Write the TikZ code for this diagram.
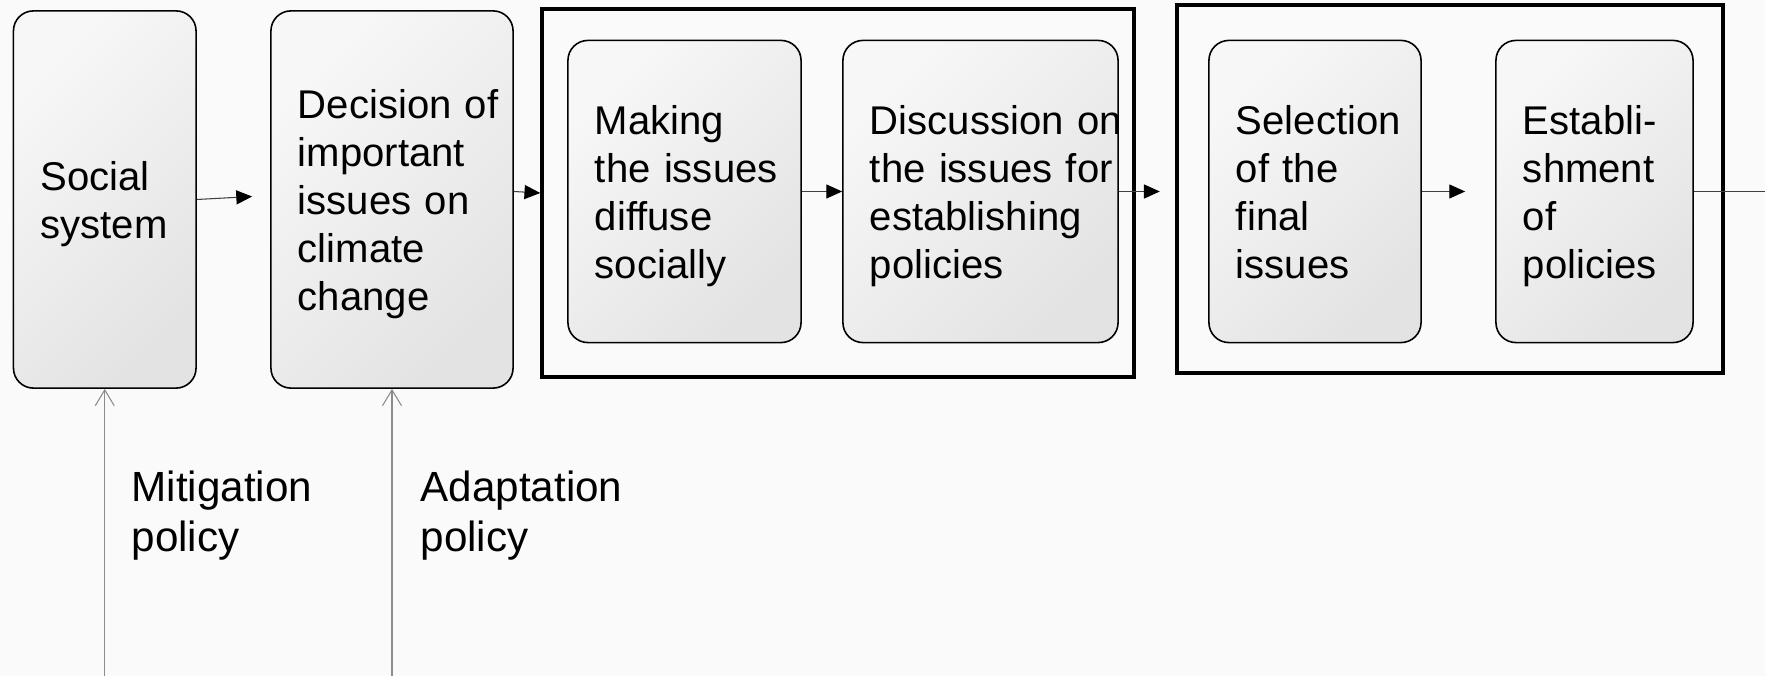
\documentclass[tikz,border=0pt]{standalone}
\usepackage{fontspec}
\setmainfont{Liberation Sans}
\usetikzlibrary{arrows.meta,shapes,calc,positioning}
\hyphenpenalty=10000
\exhyphenpenalty=10000

\tikzset{
  stage/.style={draw=black, line width=0.45pt, rounded corners=0.2cm,
    top color=black!3, bottom color=black!11, shading angle=45,
    align=left, inner xsep=0.27cm,
    font=\fontsize{11.4pt}{13.65pt}\selectfont,
    execute at begin node={\noindent\rule{0pt}{0.38cm}},
    execute at end node={\rule[-0.09cm]{0pt}{0.09cm}}},
  group/.style={draw=black, line width=1.15pt, inner sep=0pt},
  flow/.style={draw=black!75, line width=0.3pt,
    -{Triangle[length=4.5pt,width=4pt,color=black]}},
  policy/.style={draw=black!45, line width=0.3pt,
    -{Straight Barb[length=4.5pt,width=5.4pt]}},
  note/.style={align=left, inner sep=0pt,
    font=\fontsize{12pt}{14.2pt}\selectfont}
}

\begin{document}
\begin{tikzpicture}[x=0.01cm,y=-0.01cm]
  % Frame
  \useasboundingbox (0,0) rectangle (1765,676);
  \fill[black!2] (0,0) rectangle (1765,676);
  % Coordinates
  \coordinate (mitbase) at (104.75,676);
  \coordinate (adabase) at (392,676);
  \coordinate (exit) at (1765,191.5);
  % Grouping frames
  \node[group, minimum width=5.91cm, minimum height=3.68cm] (group1) at (838,193) {};
  \node[group, minimum width=5.46cm, minimum height=3.67cm] (group2) at (1450,189) {};
  % Stages
  \node[stage, text width=1.285cm, minimum height=3.77cm] (social) at (104.75,199.5) {Social\\system};
  \node[stage, text width=1.88cm, minimum height=3.77cm] (decision) at (392,199.5)
    {Decision~of\\important\\issues~on\\climate\\change};
  \node[stage, text width=1.79cm, minimum height=3.02cm] (making) at (684.5,191.5)
    {Making\\the~issues\\diffuse\\socially};
  \node[stage, text width=2.21cm, minimum height=3.02cm] (discussion) at (980.5,191.5)
    {Discussion~on\\the~issues~for\\establishing\\policies};
  \node[stage, text width=1.58cm, minimum height=3.02cm] (selection) at (1315,191.5)
    {Selection\\of~the\\final\\issues};
  \node[stage, text width=1.43cm, minimum height=3.02cm] (establish) at (1594.5,191.5)
    {Establi-\\shment\\of\\policies};
  % Policy labels
  \node[note, anchor=north west] (mitig) at (131,470) {Mitigation\\policy};
  \node[note, anchor=north west] (adapt) at (420,470) {Adaptation\\policy};
  % Flow
  \draw[flow] (social.east) -- ([shift={(-0.18cm,0.03cm)}]decision.west);
  \draw[flow] ([yshift=0.08cm]decision.east) -- (group1.west);
  \draw[flow] (making.east) -- (discussion.west);
  \draw[flow] (discussion.east) -- ([xshift=-0.15cm]group2.west |- discussion.east);
  \draw[flow] (selection.east) -- ([xshift=-0.3cm]establish.west);
  \draw[draw=black!75, line width=0.3pt] (establish.east) -- (exit);
  % Policies
  \draw[policy] (mitbase) -- (social.south);
  \draw[policy] (adabase) -- (decision.south);
\end{tikzpicture}
\end{document}
